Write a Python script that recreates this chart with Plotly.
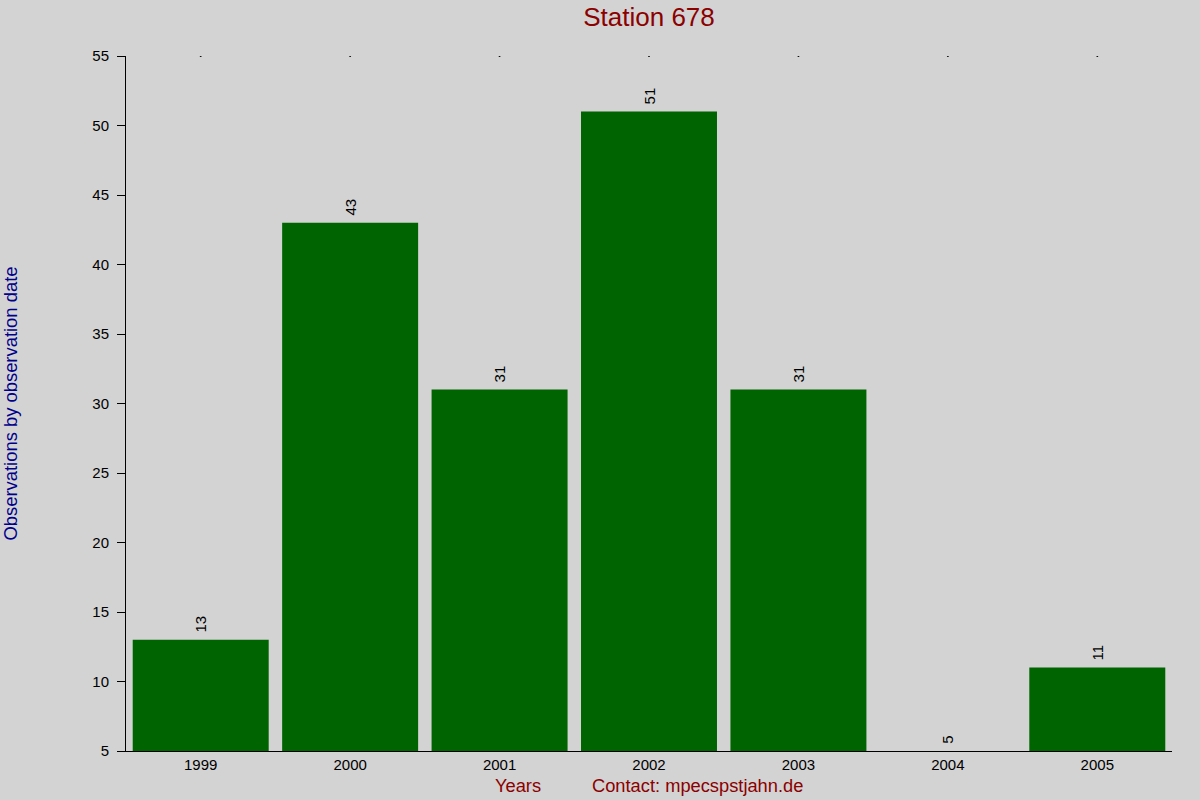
import plotly.graph_objects as go

# Data
years = ["1999", "2000", "2001", "2002", "2003", "2004", "2005"]
observations = [13, 43, 31, 51, 31, 5, 11]
y_ticks = [5, 10, 15, 20, 25, 30, 35, 40, 45, 50, 55]
y_min, y_max = 5, 55

fig = go.Figure()

fig.add_trace(go.Bar(
    x=years,
    y=observations,
    width=0.91,
    marker_color="#006400",
    marker_line_width=0,
    # leading nbsp pushes the rotated label a little further off the bar
    text=["\u00a0" + str(v) for v in observations],
    textposition="outside",
    textangle=-90,
    constraintext="none",
    textfont=dict(size=15, color="black"),
    cliponaxis=False,
))

# tiny dots along the top edge at each category
fig.add_trace(go.Scatter(
    x=years,
    y=[y_max] * len(years),
    mode="markers",
    marker=dict(size=2, color="black"),
    hoverinfo="skip",
))

fig.update_layout(
    width=1200,
    height=800,
    paper_bgcolor="#D3D3D3",
    plot_bgcolor="#D3D3D3",
    showlegend=False,
    font=dict(family="Liberation Sans, Arial, sans-serif", size=15, color="black"),
    margin=dict(l=126, r=28, t=56, b=49),
    title=dict(
        text="Station 678",
        x=(126 + 1172) / 2 / 1200,
        xanchor="center",
        y=1 - 17 / 800,
        yanchor="middle",
        font=dict(size=26, color="#8B0000"),
    ),
)

fig.update_xaxes(
    type="category",
    range=[-0.5, len(years) - 0.5],
    showline=True,
    linecolor="black",
    linewidth=1,
    ticks="",
    showgrid=False,
    zeroline=False,
    tickfont=dict(size=15),
)

fig.update_yaxes(
    range=[y_min, y_max],
    tickvals=y_ticks,
    showline=True,
    linecolor="black",
    linewidth=1,
    ticks="outside",
    ticklen=8,
    tickcolor="black",
    ticklabelstandoff=5,
    showgrid=False,
    zeroline=False,
    tickfont=dict(size=15),
)

fig.add_annotation(
    text="Observations by observation date",
    xref="paper", yref="paper",
    x=(10 - 126) / 1046, y=0.5,
    xanchor="center", yanchor="middle",
    textangle=-90,
    showarrow=False,
    font=dict(size=18.4, color="#00008B"),
)
fig.add_annotation(
    text="Years",
    xref="paper", yref="paper",
    x=(517.5 - 126) / 1046, y=-34 / 695,
    xanchor="center", yanchor="middle",
    showarrow=False,
    font=dict(size=18.3, color="#8B0000"),
)
fig.add_annotation(
    text="Contact: mpecspstjahn.de",
    xref="paper", yref="paper",
    x=(697.5 - 126) / 1046, y=-34 / 695,
    xanchor="center", yanchor="middle",
    showarrow=False,
    font=dict(size=18.3, color="#8B0000"),
)

fig.write_html(
    "out.html",
    config={"displayModeBar": False},
    post_script="document.body.style.margin='0';document.body.style.overflow='hidden';",
)
